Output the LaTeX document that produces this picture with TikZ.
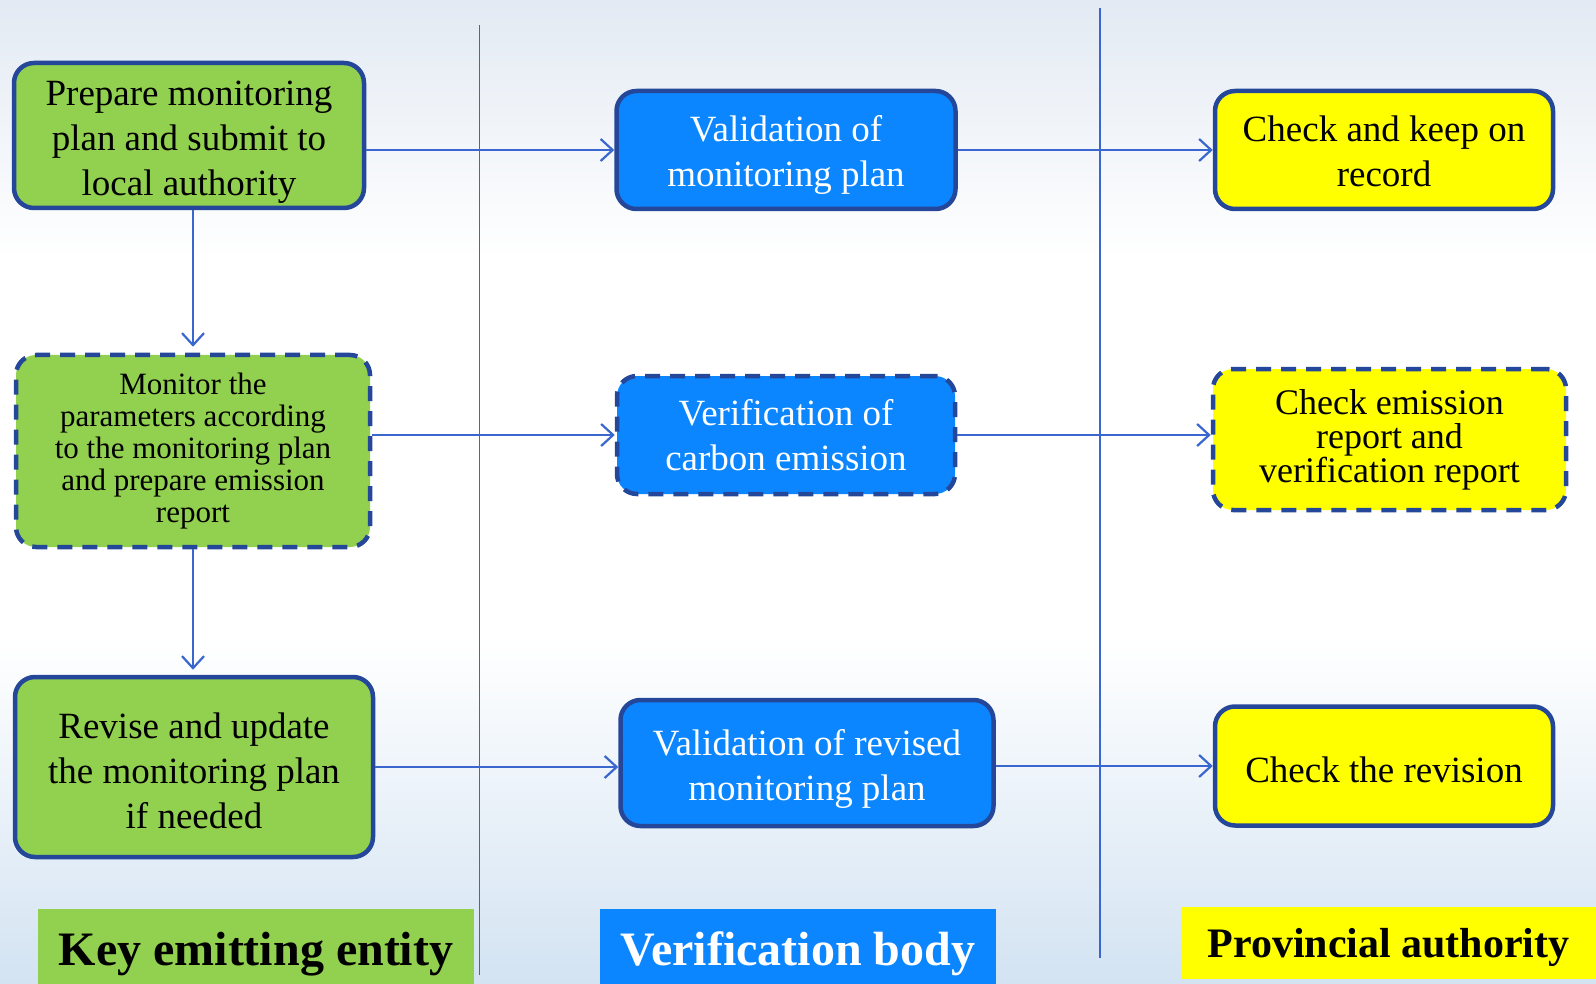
\documentclass[tikz,border=0pt]{standalone}
\usepackage{fontspec}
\setmainfont{Liberation Serif}
\usetikzlibrary{arrows.meta}
\definecolor{boxgreen}{RGB}{146,208,80}
\definecolor{boxblue}{RGB}{12,134,255}
\definecolor{boxyellow}{RGB}{255,255,0}
\definecolor{rim}{RGB}{37,71,154}
\definecolor{wire}{RGB}{58,102,208}
\definecolor{skytop}{RGB}{227,234,243}
\definecolor{skybot}{RGB}{211,227,242}
\newcommand{\sink}[1]{\rule{0pt}{#1pt}}
\tikzset{
	box/.style={draw=rim, line width=4.5pt, rounded corners=20pt, align=center, inner sep=0pt, font=\fontsize{37}{45}\selectfont},
	dashbox/.style={box, dash pattern=on 15pt off 10pt},
	arr/.style={draw=wire, line width=2.2pt, -{Straight Barb[length=12pt,width=22pt]}},
	lane/.style={draw=wire, line width=1.6pt},
	tag/.style={inner sep=0pt, text height=47pt, text depth=10pt, font=\fontsize{48}{52}\selectfont\bfseries}
}

\begin{document}
\begin{tikzpicture}[x=1pt,y=-1pt]
			%%%%% START %%%%%
			\useasboundingbox (0,0) rectangle (1596,984);
			\shade[top color=skytop, bottom color=white] (0,0) rectangle (1596,260);
			\fill[white] (0,260) rectangle (1596,640);
			\shade[top color=white, bottom color=skybot] (0,640) rectangle (1596,984);
			
			% swim lanes
			\draw[lane] (479.5,25) -- (479.5,975);
			\draw[lane] (1100,8) -- (1100,958);
			
			% key emitting entity
			\node[box, fill=boxgreen, minimum width=350pt, minimum height=145pt] (prep) at (189,135.5) {\sink{37}Prepare monitoring\\plan and submit to\\local authority};
			\node[dashbox, fill=boxgreen, minimum width=354pt, minimum height=192pt, font=\fontsize{31}{32}\selectfont] (mon) at (193,451) {Monitor the\\parameters according\\to the monitoring plan\\and prepare emission\\report};
			\node[box, fill=boxgreen, minimum width=358pt, minimum height=180pt] (rev) at (194,767) {\sink{32.5}Revise and update\\the monitoring plan\\if needed};
			
			% verification body
			\node[box, fill=boxblue, text=white, minimum width=339pt, minimum height=118pt] (valid) at (786,150) {\sink{36.5}Validation of\\monitoring plan};
			\node[dashbox, fill=boxblue, text=white, minimum width=338pt, minimum height=118pt] (verif) at (786,435) {Verification of\\carbon emission};
			\node[box, fill=boxblue, text=white, minimum width=373pt, minimum height=126pt] (valrev) at (807,763) {\sink{37.5}Validation of revised\\monitoring plan};
			
			% provincial authority
			\node[box, fill=boxyellow, minimum width=338pt, minimum height=118pt] (keep) at (1384,150) {\sink{28.5}Check and keep on\\record};
			\node[dashbox, fill=boxyellow, minimum width=353pt, minimum height=141pt, font=\fontsize{36}{34}\selectfont] (chkrep) at (1389.5,439.5) {Check emission\\report and\\verification report};
			\node[box, fill=boxyellow, minimum width=338pt, minimum height=119pt] (chkrev) at (1384,766) {\sink{33.5}Check the revision};
			
			% flow
			\draw[arr] (valid.west -| prep.east) -- (valid.west);
			\draw[arr] (valid.east) -- (keep.west);
			\draw[arr] (verif.west -| mon.east) -- (verif.west);
			\draw[arr] (verif.east) -- (verif.east -| chkrep.west);
			\draw[arr] (rev.east) -- (rev.east -| valrev.west);
			\draw[arr] (chkrev.west -| valrev.east) -- (chkrev.west);
			\draw[arr, shorten >=6pt] ([xshift=4pt]prep.south) -- ([xshift=4pt]prep.south |- mon.north);
			\draw[arr, shorten >=5pt] (mon.south) -- (mon.south |- rev.north);
			
			% lane titles
			\node[tag, fill=boxgreen, minimum width=436pt, minimum height=75pt] (kee) at (256,946.5) {Key emitting entity};
			\node[tag, fill=boxblue, text=white, minimum width=396pt, minimum height=75pt] (vb) at (798,946.5) {Verification body};
			\node[tag, fill=boxyellow, minimum width=415pt, minimum height=72pt, text height=37pt, text depth=9pt, font=\fontsize{42}{46}\selectfont\bfseries] (pa) at (1388.5,943) {Provincial authority};
			%%%%% END %%%%%
		\end{tikzpicture}
\end{document}
